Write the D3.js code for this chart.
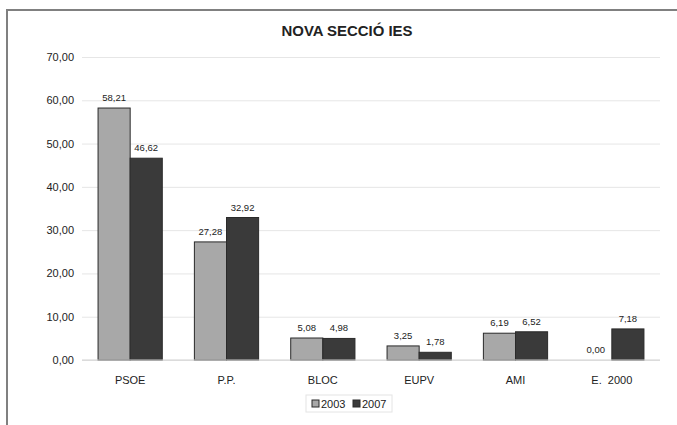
<!DOCTYPE html>
<html>
<head>
  <meta charset="utf-8">
  <script src="https://d3js.org/d3.v7.min.js"></script>
  <style>
    body { margin: 0; background: #fff; overflow: hidden; }
    svg { display: block; }
    svg text { font-family: "Liberation Sans", Arial, sans-serif; fill: #222; }
  </style>
</head>
<body>
<script>
  // chart data
  var parties = ["PSOE", "P.P.", "BLOC", "EUPV", "AMI", "E.  2000"];
  var years = ["2003", "2007"];
  var votes2003 = [58.21, 27.28, 5.08, 3.25, 6.19, 0.00];
  var votes2007 = [46.62, 32.92, 4.98, 1.78, 6.52, 7.18];
  var yTicks = [0, 10, 20, 30, 40, 50, 60, 70];

  var width = 677, height = 425;
  var fills = { "2003": "#a8a8a8", "2007": "#3a3a3a" };
  var fmt = function (v) { return v.toFixed(2).replace(".", ","); };

  var svg = d3.select("body").append("svg")
      .attr("width", width)
      .attr("height", height);

  // outer frame (only top and left edges show in the window)
  svg.append("path")
      .attr("d", "M7,425 V10 H677")
      .attr("fill", "none")
      .attr("stroke", "#808080")
      .attr("stroke-width", 2);

  svg.append("text")
      .attr("x", 347)
      .attr("y", 36)
      .attr("text-anchor", "middle")
      .attr("textLength", 131)
      .attr("lengthAdjust", "spacingAndGlyphs")
      .style("font-size", "15.5px")
      .style("font-weight", "bold")
      .text("NOVA SECCIÓ IES");

  var x = d3.scaleBand()
      .domain(parties)
      .range([82, 660])
      .paddingInner(1 / 3)
      .paddingOuter(1 / 6);

  var xs = d3.scaleBand()
      .domain(years)
      .range([0, x.bandwidth()]);

  var y = d3.scaleLinear()
      .domain([0, 70])
      .range([360, 57]);

  // gridlines + y labels
  var yAxis = svg.append("g")
      .attr("transform", "translate(82,0)")
      .call(d3.axisLeft(y).tickValues(yTicks).tickFormat(fmt)
        .tickSize(-(660 - 82)).tickPadding(8));
  yAxis.select(".domain").remove();
  yAxis.selectAll(".tick line").attr("stroke", "#e6e6e6");
  yAxis.selectAll(".tick text")
      .style("font-size", "11px")
      .attr("fill", "#222");

  var rows = parties.map(function (p, i) {
    return { party: p, values: [
      { year: "2003", v: votes2003[i] },
      { year: "2007", v: votes2007[i] }
    ] };
  });

  var groups = svg.selectAll(".grp")
      .data(rows)
      .enter().append("g")
      .attr("class", "grp")
      .attr("transform", function (d) { return "translate(" + x(d.party) + ",0)"; });

  groups.selectAll("rect")
      .data(function (d) { return d.values.filter(function (e) { return e.v > 0; }); })
      .enter().append("rect")
      .attr("x", function (d) { return xs(d.year); })
      .attr("y", function (d) { return y(d.v); })
      .attr("width", xs.bandwidth())
      .attr("height", function (d) { return y(0) - y(d.v); })
      .attr("fill", function (d) { return fills[d.year]; })
      .attr("stroke", "#2a2a2a")
      .attr("stroke-width", 1);

  groups.selectAll("text")
      .data(function (d) { return d.values; })
      .enter().append("text")
      .attr("x", function (d) { return xs(d.year) + xs.bandwidth() / 2; })
      .attr("y", function (d) { return y(d.v) - 7; })
      .attr("text-anchor", "middle")
      .style("font-size", "9.5px")
      .text(function (d) { return fmt(d.v); });

  // baseline
  svg.append("line")
      .attr("x1", 82).attr("x2", 660)
      .attr("y1", y(0)).attr("y2", y(0))
      .attr("stroke", "#d0d0d0");

  // category labels
  svg.selectAll(".cat")
      .data(parties)
      .enter().append("text")
      .attr("class", "cat")
      .attr("x", function (d) { return x(d) + x.bandwidth() / 2; })
      .attr("y", 384)
      .attr("text-anchor", "middle")
      .style("font-size", "11px")
      .style("white-space", "pre")
      .attr("xml:space", "preserve")
      .text(function (d) { return d; });

  // legend
  var legend = svg.append("g").attr("transform", "translate(306,395)");
  legend.append("rect")
      .attr("width", 86).attr("height", 17)
      .attr("fill", "none")
      .attr("stroke", "#e4e4e4");
  var item = legend.selectAll(".item")
      .data(years)
      .enter().append("g")
      .attr("class", "item")
      .attr("transform", function (d, i) { return "translate(" + (6 + i * 41) + ",0)"; });
  item.append("rect")
      .attr("y", 5).attr("width", 7).attr("height", 7)
      .attr("fill", function (d) { return fills[d]; })
      .attr("stroke", "#2a2a2a");
  item.append("text")
      .attr("x", 9).attr("y", 12.5)
      .style("font-size", "11px")
      .text(function (d) { return d; });
</script>
</body>
</html>
